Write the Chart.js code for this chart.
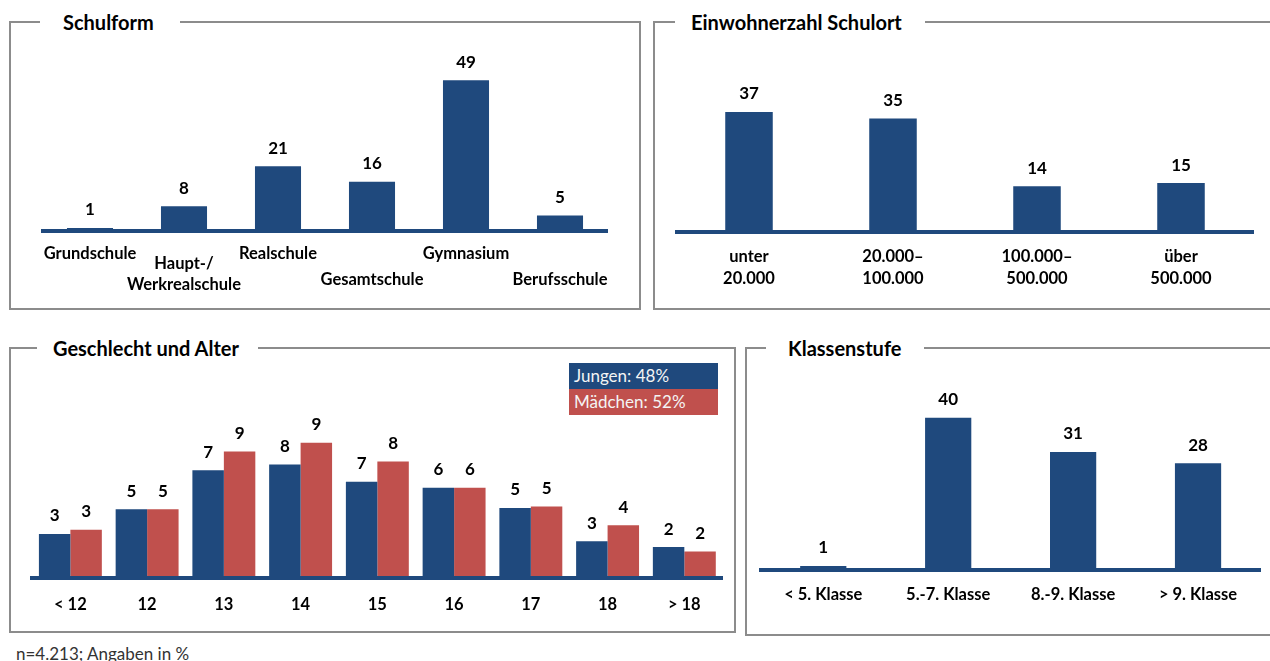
<!DOCTYPE html>
<html lang="de">
<head>
<meta charset="utf-8">
<title>Stichprobe</title>
<script src="https://cdn.jsdelivr.net/npm/chart.js"></script>
<style>
  html, body { margin: 0; padding: 0; background: #fff; }
  body { width: 1270px; height: 661px; position: relative; overflow: hidden; font-family: Lato, "Open Sans", sans-serif; }
  .panel { position: absolute; border: 2px solid #8c8c8c; box-sizing: border-box; }
  .title { position: absolute; top: -13px; height: 24px; line-height: 24px; background: #fff; font-weight: bold; font-size: 20px; color: #000; white-space: nowrap; box-sizing: border-box; }
  .box { position: absolute; }
  .legend-item { position: absolute; left: 569px; width: 149px; height: 26px; line-height: 26px; padding-left: 5px; box-sizing: border-box; color: #f4f4f4; font-size: 17px; }
  .note { position: absolute; left: 16px; top: 643px; font-size: 17px; color: #333; }
</style>
</head>
<body>

<div class="panel" style="left:9px; top:21px; width:632px; height:289px;">
  <span class="title" style="left:29px; width:140px; padding-left:23px;">Schulform</span>
</div>
<div class="panel" style="left:653px; top:21px; width:640px; height:289px;">
  <span class="title" style="left:20px; width:250px; padding-left:16px;">Einwohnerzahl Schulort</span>
</div>
<div class="panel" style="left:9px; top:347px; width:727px; height:286px;">
  <span class="title" style="left:26px; width:221px; padding-left:16px;">Geschlecht und Alter</span>
</div>
<div class="panel" style="left:745px; top:347px; width:560px; height:289px;">
  <span class="title" style="left:19px; width:158px; padding-left:22px;">Klassenstufe</span>
</div>

<div class="box" style="left:0; top:30px; width:650px; height:278px;"><canvas id="schulformChart"></canvas></div>
<div class="box" style="left:650px; top:30px; width:620px; height:278px;"><canvas id="ortChart"></canvas></div>
<div class="box" style="left:0; top:365px; width:740px; height:265px;"><canvas id="alterChart"></canvas></div>
<div class="box" style="left:740px; top:365px; width:530px; height:265px;"><canvas id="klasseChart"></canvas></div>

<div id="genderLegend"></div>
<div class="note">n=4.213; Angaben in %</div>

<script>
// Schulform
const schulformLabels = ['Grundschule', ['Haupt-/', 'Werkrealschule'], 'Realschule', 'Gesamtschule', 'Gymnasium', 'Berufsschule'];
const schulformValues = [1, 8, 21, 16, 49, 5];

// Einwohnerzahl Schulort
const ortLabels = [['unter', '20.000'], ['20.000\u2013', '100.000'], ['100.000\u2013', '500.000'], ['über', '500.000']];
const ortValues = [37, 35, 14, 15];

// Geschlecht und Alter (bar heights)
const alterLabels = ['< 12', '12', '13', '14', '15', '16', '17', '18', '> 18'];
const jungenValues = [3.0, 4.7, 7.4, 7.8, 6.6, 6.2, 4.8, 2.5, 2.1];
const maedchenValues = [3.3, 4.7, 8.7, 9.3, 8.0, 6.2, 4.9, 3.6, 1.8];
const seriesNames = ['Jungen: 48%', 'Mädchen: 52%'];

// Klassenstufe
const klasseLabels = ['< 5. Klasse', '5.-7. Klasse', '8.-9. Klasse', '> 9. Klasse'];
const klasseValues = [1, 40, 31, 28];

const BLUE = '#1F497D';
const RED = '#C0504D';
const FONT = 'Lato, "Open Sans", sans-serif';

// Value labels above every bar
const valueLabels = {
    id: 'valueLabels',
    afterDatasetsDraw(chart) {
        const ctx = chart.ctx;
        ctx.save();
        ctx.font = 'bold 17px ' + FONT;
        ctx.fillStyle = '#000';
        ctx.textAlign = 'center';
        ctx.textBaseline = 'middle';
        chart.data.datasets.forEach((ds, di) => {
            chart.getDatasetMeta(di).data.forEach((bar, i) => {
                ctx.fillText(Math.round(ds.data[i]), bar.x, bar.y - 18);
            });
        });
        ctx.restore();
    }
};

function barChart(id, labels, datasets, cfg) {
    return new Chart(document.getElementById(id), {
        type: 'bar',
        data: { labels: labels, datasets: datasets },
        options: {
            responsive: true,
            maintainAspectRatio: false,
            animation: false,
            layout: { padding: cfg.padding },
            plugins: { legend: { display: false }, tooltip: { enabled: false } },
            scales: {
                x: {
                    grid: { display: false },
                    border: { display: true, color: BLUE, width: 4, z: 1 },
                    ticks: {
                        padding: cfg.tickPadding,
                        color: '#000',
                        autoSkip: false,
                        maxRotation: 0,
                        font: (ctx) => ({ family: FONT, size: cfg.tickSize, weight: 'bold', lineHeight: cfg.lineHeight(ctx.index) })
                    },
                    afterFit: (scale) => { scale.height = cfg.axisHeight; }
                },
                y: { display: false, min: 0, max: cfg.max }
            }
        },
        plugins: [valueLabels]
    });
}

barChart('schulformChart', schulformLabels,
    [{ data: schulformValues, backgroundColor: BLUE, barPercentage: 1, categoryPercentage: 0.49 }],
    {
        padding: { left: 43, right: 43, top: 20, bottom: 0 },
        axisHeight: 77, max: 58.8, tickPadding: 14.5, tickSize: 16.5,
        lineHeight: (i) => {
            if (i === undefined) return '18px';
            if (Array.isArray(schulformLabels[i])) return '21px';
            return i % 2 ? '52px' : '1px';
        }
    });

barChart('ortChart', ortLabels,
    [{ data: ortValues, backgroundColor: BLUE, barPercentage: 1, categoryPercentage: 0.33 }],
    {
        padding: { left: 27, right: 17, top: 20, bottom: 0 },
        axisHeight: 76.5, max: 56.2, tickPadding: 6, tickSize: 16.5,
        lineHeight: () => '22px'
    });

barChart('alterChart', alterLabels,
    [
        { label: seriesNames[0], data: jungenValues, backgroundColor: BLUE, barPercentage: 1, categoryPercentage: 0.82 },
        { label: seriesNames[1], data: maedchenValues, backgroundColor: RED, barPercentage: 1, categoryPercentage: 0.82 }
    ],
    {
        padding: { left: 32, right: 17.3, top: 20, bottom: 0 },
        axisHeight: 52.5, max: 13.28, tickPadding: 5, tickSize: 16.5,
        lineHeight: () => '27.6px'
    });

barChart('klasseChart', klasseLabels,
    [{ data: klasseValues, backgroundColor: BLUE, barPercentage: 1, categoryPercentage: 0.37 }],
    {
        padding: { left: 20.8, right: 9.5, top: 20, bottom: 0 },
        axisHeight: 60.3, max: 48.6, tickPadding: 7.5, tickSize: 16.5,
        lineHeight: () => '18.6px'
    });

// Legend boxes for the gender chart
const legendEl = document.getElementById('genderLegend');
[BLUE, RED].forEach((color, i) => {
    const item = document.createElement('div');
    item.className = 'legend-item';
    item.style.top = (363 + i * 26) + 'px';
    item.style.background = color;
    item.textContent = seriesNames[i];
    legendEl.appendChild(item);
});
</script>
</body>
</html>
